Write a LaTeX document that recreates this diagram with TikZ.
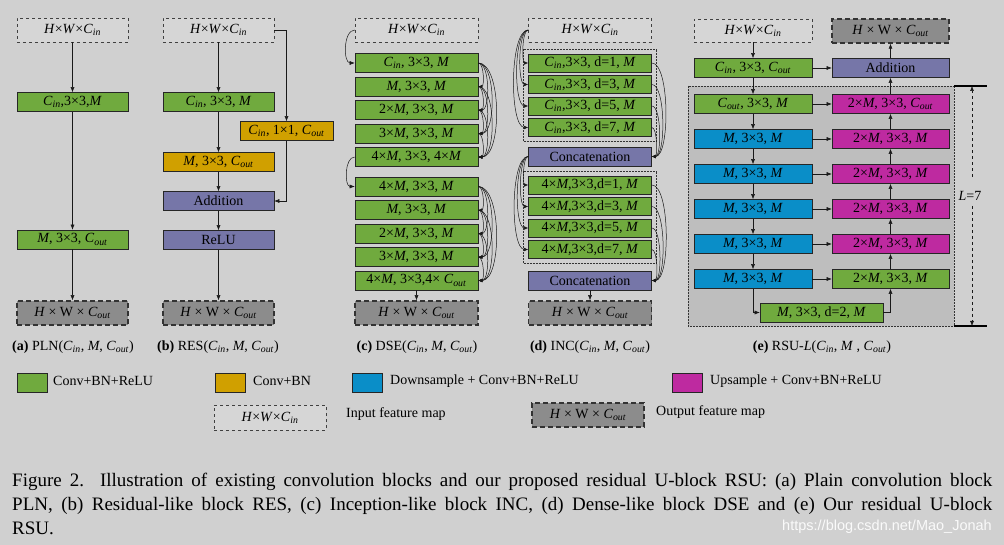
\documentclass[tikz,border=0pt]{standalone}
\usepackage{fontspec}
\setmainfont{Liberation Serif}
\newfontfamily\wmfont{Liberation Sans}
\usetikzlibrary{arrows.meta,fit}

\definecolor{bgcol}{RGB}{208,208,208}
\definecolor{convgreen}{RGB}{112,170,62}
\definecolor{bnorange}{RGB}{208,160,0}
\definecolor{downblue}{RGB}{10,142,200}
\definecolor{upmagenta}{RGB}{190,42,160}
\definecolor{oppurple}{RGB}{118,118,168}
\definecolor{infill}{RGB}{214,214,214}
\definecolor{outfill}{RGB}{140,140,140}
\definecolor{ufill}{RGB}{190,190,190}

\newcommand{\Cin}{\textit{C}\textsubscript{\textit{in}}}
\newcommand{\Cout}{\textit{C}\textsubscript{\textit{out}}}
\newcommand{\Mi}{\textit{M}}

\tikzset{
  blk/.style={draw=black!85, line width=0.6pt, inner sep=0pt, minimum height=19pt,
    font=\fontsize{14}{16}\selectfont},
  conv/.style={blk, fill=convgreen},
  convbn/.style={blk, fill=bnorange},
  down/.style={blk, fill=downblue},
  up/.style={blk, fill=upmagenta},
  op/.style={blk, fill=oppurple},
  inmap/.style={blk, draw=black!75, dashed, line width=0.5pt, fill=infill, minimum height=24pt},
  outmap/.style={blk, draw=black!80, line width=1.5pt, dash pattern=on 5pt off 3pt,
    fill=outfill, minimum height=24pt},
  group/.style={draw=black!80, densely dotted, line width=0.5pt, inner sep=0pt},
  lbl/.style={font=\fontsize{14}{16}\selectfont},
  arr/.style={->, line width=0.5pt, black!90},
}

\begin{document}
\begin{tikzpicture}[x=1pt, y=-1pt, >={Latex[length=5pt,width=4pt]}]
\fill[bgcol] (0,0) rectangle (1004,545);
\useasboundingbox (0,0) rectangle (1004,545);

% (a) plain block
\node[inmap, minimum width=111pt] (ain) at (72.5,30) {\textit{H}×\textit{W}×\Cin};
\node[conv, minimum width=111pt] (a1) at (72.5,102) {\Cin,3×3,\Mi};
\node[conv, minimum width=111pt] (a2) at (72.5,239.5) {\Mi, 3×3, \Cout};
\node[outmap, minimum width=111pt] (aout) at (72.5,313) {\textit{H} × W × \Cout};
\draw[arr] (ain) -- (a1);
\draw[arr] (a1) -- (a2);
\draw[arr] (a2) -- (aout);
\node[lbl] (acap) at (73,347) {\textbf{(a)} PLN(\Cin, \Mi, \Cout)};

% (b) residual block
\node[inmap, minimum width=111pt] (bin) at (218.5,30) {\textit{H}×\textit{W}×\Cin};
\node[conv, minimum width=111pt] (b1) at (218.5,102) {\Cin, 3×3, \Mi};
\node[convbn, minimum width=93pt] (bsc) at (286.5,131) {\Cin, 1×1, \Cout};
\node[convbn, minimum width=111pt] (b2) at (218.5,162) {\Mi, 3×3, \Cout};
\node[op, minimum width=111pt] (badd) at (218.5,201) {Addition};
\node[op, minimum width=111pt] (brelu) at (218.5,240) {ReLU};
\node[outmap, minimum width=111pt] (bout) at (218.5,313) {\textit{H} × W × \Cout};
\draw[arr] (bin) -- (b1);
\draw[arr] (b1) -- (b2);
\draw[arr] (b2) -- (badd);
\draw[arr] (badd) -- (brelu);
\draw[arr] (brelu) -- (bout);
\draw[arr] (bin.east) -| (bsc.north);
\draw[arr] (bsc.south) |- (badd.east);
\node[lbl] (bcap) at (218,347) {\textbf{(b)} RES(\Cin, \Mi, \Cout)};

% (c) dense block
\node[inmap, minimum width=123pt] (cin) at (416.5,30) {\textit{H}×\textit{W}×\Cin};
\node[conv, minimum width=123pt] (c1) at (416.5,63) {\Cin, 3×3, \Mi};
\node[conv, minimum width=123pt] (c2) at (416.5,86.5) {\Mi, 3×3, \Mi};
\node[conv, minimum width=123pt] (c3) at (416.5,110) {2×\Mi, 3×3, \Mi};
\node[conv, minimum width=123pt] (c4) at (416.5,133.5) {3×\Mi, 3×3, \Mi};
\node[conv, minimum width=123pt] (c5) at (416.5,157) {4×\Mi, 3×3, 4×\Mi};
\node[conv, minimum width=123pt] (c6) at (416.5,186.5) {4×\Mi, 3×3, \Mi};
\node[conv, minimum width=123pt] (c7) at (416.5,210) {\Mi, 3×3, \Mi};
\node[conv, minimum width=123pt] (c8) at (416.5,233.5) {2×\Mi, 3×3, \Mi};
\node[conv, minimum width=123pt] (c9) at (416.5,257) {3×\Mi, 3×3, \Mi};
\node[conv, minimum width=123pt] (c10) at (416.5,280.5) {4×\Mi, 3×3,4× \Cout};
\node[outmap, minimum width=123pt] (cout) at (416.5,313) {\textit{H} × W × \Cout};
\draw[arr] (cin.west) to[out=180,in=180,looseness=0.9] (c1.west);
\draw[arr] (c5.west) to[out=180,in=180,looseness=0.9] (c6.west);
\foreach \i in {1,...,4}{
  \pgfmathtruncatemacro\k{\i+1}
  \foreach \j in {\k,...,5}{
    \draw[arr, >={Latex[length=4pt,width=3.5pt]}] (c\i.east) to[out=0,in=0,looseness=0.65] (c\j.east);
  }
}
\foreach \i in {6,...,9}{
  \pgfmathtruncatemacro\k{\i+1}
  \foreach \j in {\k,...,10}{
    \draw[arr, >={Latex[length=4pt,width=3.5pt]}] (c\i.east) to[out=0,in=0,looseness=0.65] (c\j.east);
  }
}
\draw[arr] (c10) -- (cout);
\node[lbl] (ccap) at (417,347) {\textbf{(c)} DSE(\Cin, \Mi, \Cout)};

% (d) inception block
\node[inmap, minimum width=123pt] (din) at (590,30) {\textit{H}×\textit{W}×\Cin};
\node[conv, minimum width=123pt, minimum height=18pt] (d1) at (590,63) {\Cin,3×3, d=1, \Mi};
\node[conv, minimum width=123pt, minimum height=18pt] (d2) at (590,84.5) {\Cin,3×3, d=3, \Mi};
\node[conv, minimum width=123pt, minimum height=18pt] (d3) at (590,106) {\Cin,3×3, d=5, \Mi};
\node[conv, minimum width=123pt, minimum height=18pt] (d4) at (590,127.5) {\Cin,3×3, d=7, \Mi};
\node[group, fit=(d1)(d4), inner sep=4.5pt] (dg1) {};
\node[op, minimum width=123pt] (dcat1) at (590,156.5) {Concatenation};
\node[conv, minimum width=123pt, minimum height=18pt] (e1) at (590,185) {4×\Mi,3×3,d=1, \Mi};
\node[conv, minimum width=123pt, minimum height=18pt] (e2) at (590,206.5) {4×\Mi,3×3,d=3, \Mi};
\node[conv, minimum width=123pt, minimum height=18pt] (e3) at (590,228) {4×\Mi,3×3,d=5, \Mi};
\node[conv, minimum width=123pt, minimum height=18pt] (e4) at (590,249.5) {4×\Mi,3×3,d=7, \Mi};
\node[group, fit=(e1)(e4), inner sep=4.5pt] (dg2) {};
\node[op, minimum width=123pt] (dcat2) at (590,280.5) {Concatenation};
\node[outmap, minimum width=123pt] (dout) at (590,313) {\textit{H} × W × \Cout};
\foreach \i in {1,...,4}{
  \draw[arr, >={Latex[length=4pt,width=3.5pt]}] (din.west) to[out=180,in=180,looseness=0.5] (d\i.west);
  \draw[arr, >={Latex[length=4pt,width=3.5pt]}] (d\i.east) to[out=0,in=0,looseness=0.5] (dcat1.east);
  \draw[arr, >={Latex[length=4pt,width=3.5pt]}] (dcat1.west) to[out=180,in=180,looseness=0.5] (e\i.west);
  \draw[arr, >={Latex[length=4pt,width=3.5pt]}] (e\i.east) to[out=0,in=0,looseness=0.5] (dcat2.east);
}
\draw[arr] (dcat2) -- (dout);
\node[lbl] (dcap) at (590,347) {\textbf{(d)} INC(\Cin, \Mi, \Cout)};

% (e) RSU block
\fill[ufill] (688,86) rectangle (954,326);
\draw[densely dotted, line width=0.5pt, black!80] (688,86) rectangle (954,326);
\node[inmap, minimum width=118pt, minimum height=23pt] (ein) at (753,30.5) {\textit{H}×\textit{W}×\Cin};
\node[outmap, minimum width=117pt] (eout) at (890.5,31) {\textit{H} × W × \Cout};
\node[conv, minimum width=118pt] (eg) at (753,68) {\Cin, 3×3, \Cout};
\node[op, minimum width=117pt] (eadd) at (890.5,68) {Addition};
\node[conv, minimum width=118pt] (l1) at (753,104) {\Cout, 3×3, \Mi};
\node[down, minimum width=118pt] (l2) at (753,139) {\Mi, 3×3, \Mi};
\node[down, minimum width=118pt] (l3) at (753,174) {\Mi, 3×3, \Mi};
\node[down, minimum width=118pt] (l4) at (753,209) {\Mi, 3×3, \Mi};
\node[down, minimum width=118pt] (l5) at (753,244) {\Mi, 3×3, \Mi};
\node[down, minimum width=118pt] (l6) at (753,279) {\Mi, 3×3, \Mi};
\node[up, minimum width=117pt] (r1) at (890.5,104) {2×\Mi, 3×3, \Cout};
\node[up, minimum width=117pt] (r2) at (890.5,139) {2×\Mi, 3×3, \Mi};
\node[up, minimum width=117pt] (r3) at (890.5,174) {2×\Mi, 3×3, \Mi};
\node[up, minimum width=117pt] (r4) at (890.5,209) {2×\Mi, 3×3, \Mi};
\node[up, minimum width=117pt] (r5) at (890.5,244) {2×\Mi, 3×3, \Mi};
\node[conv, minimum width=117pt] (r6) at (890.5,279) {2×\Mi, 3×3, \Mi};
\node[conv, minimum width=123pt] (ebot) at (821.5,312.5) {\Mi, 3×3, d=2, \Mi};
\draw[arr] (ein) -- (eg);
\draw[arr] (eg) -- (l1);
\draw[arr] (eg) -- (eadd);
\draw[arr] (eadd) -- (eout);
\draw[arr] (r1) -- (eadd);
\foreach \i [evaluate=\i as \k using int(\i+1)] in {1,...,5}{
  \draw[arr] (l\i) -- (l\k);
  \draw[arr] (r\k) -- (r\i);
}
\foreach \i in {1,...,6}{
  \draw[arr] (l\i) -- (r\i);
}
\draw[arr] (l6.south) |- (ebot.west);
\draw[arr] (ebot.east) -| (r6.south);
\coordinate (ltop) at (972,86);
\coordinate (lbot) at (972,326);
\draw[line width=1.2pt] (954,86) -- (987,86);
\draw[line width=1.2pt] (954,326) -- (987,326);
\node[lbl, inner sep=0pt] (lval) at (970,196) {\textit{L}=7};
\draw[arr, dashed] (972,177) -- (ltop);
\draw[arr, dashed] (972,206) -- (lbot);
\node[lbl] (ecap) at (822,347) {\textbf{(e)} RSU-\textit{L}(\Cin, \Mi\ , \Cout)};

% legend
\node[conv, minimum width=30pt] (lg1) at (32,382.5) {};
\node[lbl, anchor=west, inner sep=0pt] (lt1) at (53,381) {Conv+BN+ReLU};
\node[convbn, minimum width=30pt] (lg2) at (230.5,382.5) {};
\node[lbl, anchor=west, inner sep=0pt] (lt2) at (253,381) {Conv+BN};
\node[down, minimum width=30pt] (lg3) at (367.5,382.5) {};
\node[lbl, anchor=west, inner sep=0pt] (lt3) at (390,381) {Downsample + Conv+BN+ReLU};
\node[up, minimum width=30pt] (lg4) at (687.5,382.5) {};
\node[lbl, anchor=west, inner sep=0pt] (lt4) at (710,381) {Upsample + Conv+BN+ReLU};
\node[inmap, minimum width=112pt, minimum height=25pt] (lg5) at (270,417.5) {\textit{H}×\textit{W}×\Cin};
\node[lbl, anchor=west, inner sep=0pt] (lt5) at (346,414) {Input feature map};
\node[outmap, minimum width=112pt] (lg6) at (588,415) {\textit{H} × W × \Cout};
\node[lbl, anchor=west, inner sep=0pt] (lt6) at (656,412) {Output feature map};

% caption
\node[anchor=north west, text width=980pt, align=justify, inner sep=0pt,
  font=\fontsize{19}{24}\selectfont] (cap) at (12,473)
  {Figure 2.\ \ Illustration of existing convolution blocks and our proposed residual U-block RSU: (a) Plain convolution block\linebreak
  PLN, (b) Residual-like block RES, (c) Inception-like block INC, (d) Dense-like block DSE and (e) Our residual U-block\linebreak
  RSU.};
\node[anchor=east, inner sep=0pt, text=white!90!bgcol, font=\wmfont\fontsize{14.5}{16}\selectfont] (wm) at (992,527) {https://blog.csdn.net/Mao\_Jonah};
\end{tikzpicture}
\end{document}
